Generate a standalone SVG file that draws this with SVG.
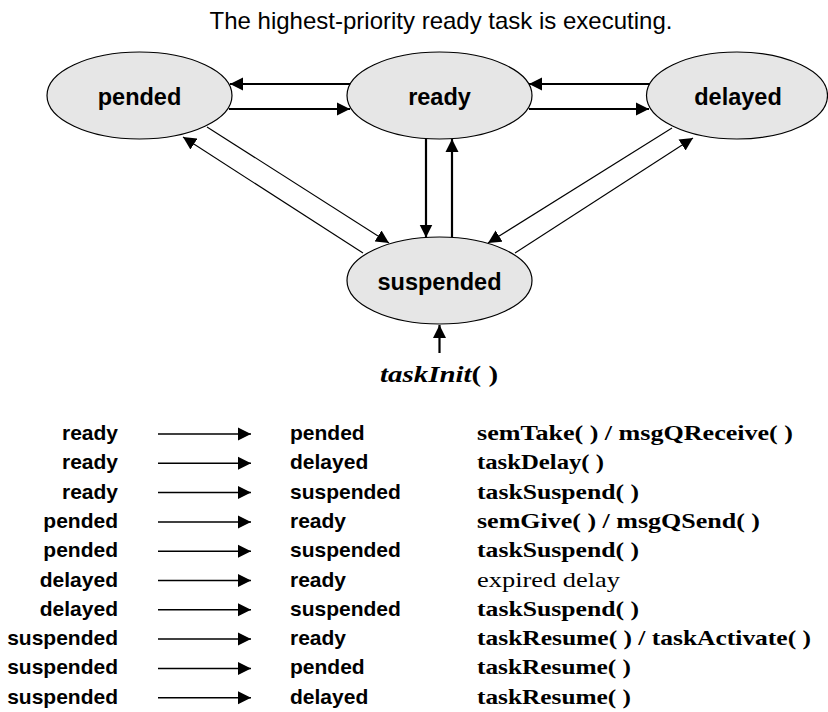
<svg xmlns="http://www.w3.org/2000/svg" width="828" height="712" viewBox="0 0 828 712">
<defs>
<style>
.node ellipse{fill:#e6e6e6;stroke:#000;stroke-width:1.2}
.nlabel{font-family:"Liberation Sans",Arial,sans-serif;font-weight:bold;font-size:23.5px;text-anchor:middle;fill:#000}
.title{font-family:"Liberation Sans",Arial,sans-serif;font-size:24px;text-anchor:middle;fill:#000}
.thick{stroke:#000;stroke-width:2.2;fill:none;marker-end:url(#ah)}
.thin{stroke:#000;stroke-width:1.1;fill:none;marker-end:url(#ah)}
.tab{stroke:#000;stroke-width:1.5;fill:none;marker-end:url(#ah)}
.colL{font-family:"Liberation Sans",Arial,sans-serif;font-weight:bold;font-size:21px;text-anchor:end}
.colM{font-family:"Liberation Sans",Arial,sans-serif;font-weight:bold;font-size:21px}
.colR{font-family:"Liberation Serif","Times New Roman",serif;font-weight:bold;font-size:22px}
.colRn{font-family:"Liberation Serif","Times New Roman",serif;font-size:22px}
.init{font-family:"Liberation Serif","Times New Roman",serif;font-weight:bold;font-size:24px}
</style>
<marker id="ah" markerUnits="userSpaceOnUse" markerWidth="14" markerHeight="14" viewBox="0 0 14 14" refX="13" refY="7" orient="auto">
<path d="M0,0.5 L13,7 L0,13.5 z" fill="#000"/>
</marker>
</defs>
<rect width="828" height="712" fill="#fff"/>
<text class="title" x="441" y="29">The highest-priority ready task is executing.</text>

<g id="connectors">
<line class="thick" x1="351" y1="84" x2="230" y2="84"/>
<line class="thick" x1="229" y1="109" x2="350" y2="109"/>
<line class="thick" x1="650" y1="84" x2="529" y2="84"/>
<line class="thick" x1="529" y1="109" x2="649" y2="109"/>
<line class="thick" x1="426" y1="138.5" x2="426" y2="237.5"/>
<line class="thick" x1="452" y1="237.5" x2="452" y2="139"/>
<line class="thin" x1="207" y1="127" x2="389" y2="243"/>
<line class="thin" x1="363" y1="253" x2="183" y2="137"/>
<line class="thin" x1="672" y1="128" x2="488" y2="243"/>
<line class="thin" x1="515" y1="253" x2="693" y2="138"/>
<line class="thick" x1="439.5" y1="353" x2="439.5" y2="325"/>
</g>

<g id="node-pended" class="node">
<ellipse cx="139.5" cy="95.5" rx="92.5" ry="43.5"/>
<text class="nlabel" x="139.5" y="104.5">pended</text>
</g>
<g id="node-ready" class="node">
<ellipse cx="439.5" cy="95.5" rx="92.5" ry="43.5"/>
<text class="nlabel" x="439.5" y="104.5">ready</text>
</g>
<g id="node-delayed" class="node">
<ellipse cx="737" cy="95.5" rx="90.5" ry="43.5"/>
<text class="nlabel" x="738" y="104.5">delayed</text>
</g>
<g id="node-suspended" class="node">
<ellipse cx="439.5" cy="280.5" rx="92.5" ry="43.5"/>
<text class="nlabel" x="439.5" y="289.5">suspended</text>
</g>
<g id="init-label">
<text class="init" x="380" y="382" textLength="118" lengthAdjust="spacingAndGlyphs"><tspan font-style="italic">taskInit</tspan>( )</text>
</g>

<g id="table">
<g id="row1"><text class="colL" x="118" y="440">ready</text><line class="tab" x1="158" y1="434" x2="251" y2="434"/><text class="colM" x="290" y="440">pended</text><text class="colR" x="477" y="440" textLength="316" lengthAdjust="spacingAndGlyphs">semTake( ) / msgQReceive( )</text></g>
<g id="row2"><text class="colL" x="118" y="469.3">ready</text><line class="tab" x1="158" y1="463.3" x2="251" y2="463.3"/><text class="colM" x="290" y="469.3">delayed</text><text class="colR" x="477" y="469.3" textLength="127" lengthAdjust="spacingAndGlyphs">taskDelay( )</text></g>
<g id="row3"><text class="colL" x="118" y="498.6">ready</text><line class="tab" x1="158" y1="492.6" x2="251" y2="492.6"/><text class="colM" x="290" y="498.6">suspended</text><text class="colR" x="477" y="498.6" textLength="162" lengthAdjust="spacingAndGlyphs">taskSuspend( )</text></g>
<g id="row4"><text class="colL" x="118" y="527.9">pended</text><line class="tab" x1="158" y1="521.9" x2="251" y2="521.9"/><text class="colM" x="290" y="527.9">ready</text><text class="colR" x="477" y="527.9" textLength="283" lengthAdjust="spacingAndGlyphs">semGive( ) / msgQSend( )</text></g>
<g id="row5"><text class="colL" x="118" y="557.2">pended</text><line class="tab" x1="158" y1="551.2" x2="251" y2="551.2"/><text class="colM" x="290" y="557.2">suspended</text><text class="colR" x="477" y="557.2" textLength="162" lengthAdjust="spacingAndGlyphs">taskSuspend( )</text></g>
<g id="row6"><text class="colL" x="118" y="586.5">delayed</text><line class="tab" x1="158" y1="580.5" x2="251" y2="580.5"/><text class="colM" x="290" y="586.5">ready</text><text class="colRn" x="477" y="586.5" textLength="143" lengthAdjust="spacingAndGlyphs">expired delay</text></g>
<g id="row7"><text class="colL" x="118" y="615.8">delayed</text><line class="tab" x1="158" y1="609.8" x2="251" y2="609.8"/><text class="colM" x="290" y="615.8">suspended</text><text class="colR" x="477" y="615.8" textLength="162" lengthAdjust="spacingAndGlyphs">taskSuspend( )</text></g>
<g id="row8"><text class="colL" x="118" y="645.1">suspended</text><line class="tab" x1="158" y1="639.1" x2="251" y2="639.1"/><text class="colM" x="290" y="645.1">ready</text><text class="colR" x="477" y="645.1" textLength="334" lengthAdjust="spacingAndGlyphs">taskResume( ) / taskActivate( )</text></g>
<g id="row9"><text class="colL" x="118" y="674.4">suspended</text><line class="tab" x1="158" y1="668.4" x2="251" y2="668.4"/><text class="colM" x="290" y="674.4">pended</text><text class="colR" x="477" y="674.4" textLength="154" lengthAdjust="spacingAndGlyphs">taskResume( )</text></g>
<g id="row10"><text class="colL" x="118" y="703.7">suspended</text><line class="tab" x1="158" y1="697.7" x2="251" y2="697.7"/><text class="colM" x="290" y="703.7">delayed</text><text class="colR" x="477" y="703.7" textLength="154" lengthAdjust="spacingAndGlyphs">taskResume( )</text></g>
</g>
</svg>
